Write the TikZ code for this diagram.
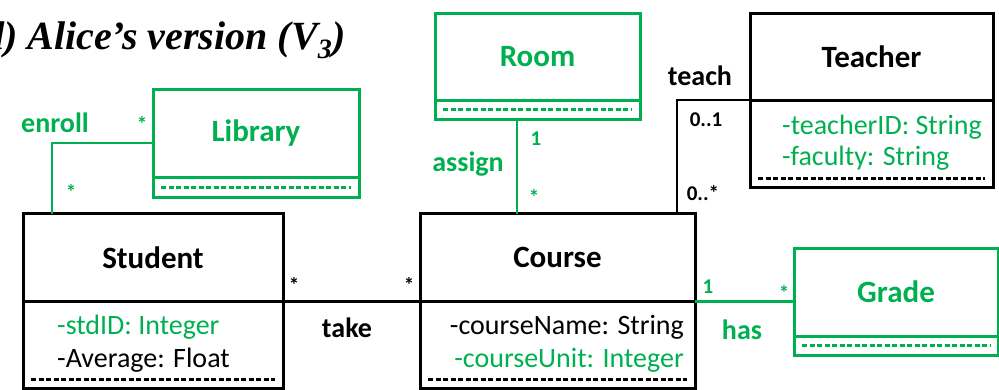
\documentclass[tikz,border=0pt]{standalone}
\usepackage{fontspec}
\setmainfont{Carlito}
\newfontfamily\titlefont{Liberation Serif}
\usetikzlibrary{positioning}

\definecolor{umlgreen}{RGB}{0,176,80}

\tikzset{
  classname/.style={draw, line width=3pt, outer sep=0pt, inner sep=0pt,
    minimum width=#1, minimum height=88pt, font=\fontsize{31}{31}\selectfont\bfseries},
  attrbox/.style={draw, line width=3pt, outer sep=0pt, inner sep=0pt, minimum width=#1},
  attr/.style={inner sep=0pt, font=\fontsize{28}{28}\selectfont},
  assoc/.style={inner sep=0pt, anchor=base, font=\fontsize{28}{28}\selectfont\bfseries},
  mult/.style={inner sep=0pt, anchor=base, font=\fontsize{21}{21}\selectfont\bfseries},
  sepline/.style={line width=2.6pt, dash pattern=on 5pt off 2.5pt},
  conn/.style={line width=2.4pt}
}

\begin{document}
\begin{tikzpicture}[x=1pt,y=-1pt]
    \useasboundingbox (0,0) rectangle (999,389);

    \node [anchor=base west, inner sep=0pt, font=\titlefont\fontsize{40}{40}\selectfont\bfseries\itshape] (title) at (-16,49) {d) Alice’s version (V\textsubscript{3})};

    % classes kept from the base version
    \node [classname=260pt] (student) at (153,257.5) {Student};
    \node [attrbox=260pt, minimum height=86.5pt, below=0pt of student] (studentattr) {};
    \node [classname=275pt] (course) at (557.5,257.5) {Course};
    \node [attrbox=275pt, minimum height=86.5pt, below=0pt of course] (courseattr) {};
    \node [classname=243pt, minimum height=87pt] (teacher) at (871.5,56.5) {Teacher};
    \node [attrbox=243pt, minimum height=87pt, below=0pt of teacher] (teacherattr) {};

    % classes added by Alice
    \begin{scope}[umlgreen]
    \node [classname=206pt] (library) at (256,133) {Library};
    \node [attrbox=206pt, minimum height=20pt, below=0pt of library] (libraryattr) {};
    \node [classname=205pt, minimum height=87pt] (room) at (537.5,56.5) {Room};
    \node [attrbox=205pt, minimum height=19pt, below=0pt of room] (roomattr) {};
    \node [classname=204pt] (grade) at (896,292) {Grade};
    \node [attrbox=204pt, minimum height=19pt, below=0pt of grade] (gradeattr) {};
    \end{scope}

    \foreach \c in {studentattr,courseattr,teacherattr} {
    \draw [sepline] ([xshift=8pt,yshift=8.5pt]\c.south west) -- ([xshift=-8pt,yshift=8.5pt]\c.south east);
    }
    \foreach \c in {libraryattr,roomattr,gradeattr} {
    \draw [sepline, umlgreen] ([xshift=8pt,yshift=9.5pt]\c.south west) -- ([xshift=-8pt,yshift=9.5pt]\c.south east);
    }

    % attributes
    \node [attr, anchor=base west, umlgreen] (stdid) at (57,334) {-stdID: Integer};
    \node [attr, anchor=base west] (average) at (57,367) {-Average: Float};
    \node [attr, anchor=base east] (coursename) at (684,334) {-courseName: String};
    \node [attr, anchor=base east, umlgreen] (courseunit) at (684,367) {-courseUnit: Integer};
    \node [attr, anchor=base west, umlgreen] (teacherid) at (782,134) {-teacherID: String};
    \node [attr, anchor=base west, umlgreen] (faculty) at (782,165) {-faculty: String};

    % associations
    \draw [conn] (student.south east) -- (course.south west);
    \draw [conn] (teacher.south west) -| ([xshift=-18pt]course.north east);
    \draw [conn, umlgreen] (course.south east) -- (course.south east -| grade.west);
    \draw [conn, umlgreen] ([xshift=-20.5pt]roomattr.south) -- ([xshift=-20.5pt]roomattr.south |- course.north);
    \draw [conn, umlgreen] ([yshift=-10pt]library.west) -| ([xshift=29pt]student.north west);

    \node [assoc] (take) at (347,337) {take};
    \node [mult] (takeleft) at (294,292) {*};
    \node [mult] (takeright) at (409,292) {*};
    \node [assoc] (teach) at (700,85) {teach};
    \node [mult] (teachtop) at (706,126) {0..1};
    \node [mult] (teachbottom) at (703,200) {0..*};

    \begin{scope}[umlgreen]
    \node [assoc] (enroll) at (55,132) {enroll};
    \node [mult] (enrolltop) at (142,131) {*};
    \node [mult] (enrollbottom) at (71,199) {*};
    \node [assoc] (assign) at (468,171) {assign};
    \node [mult] (assigntop) at (536,145) {1};
    \node [mult] (assignbottom) at (534,204) {*};
    \node [assoc] (has) at (742,339) {has};
    \node [mult] (hasleft) at (708,293) {1};
    \node [mult] (hasright) at (784,300) {*};
    \end{scope}
\end{tikzpicture}
\end{document}
